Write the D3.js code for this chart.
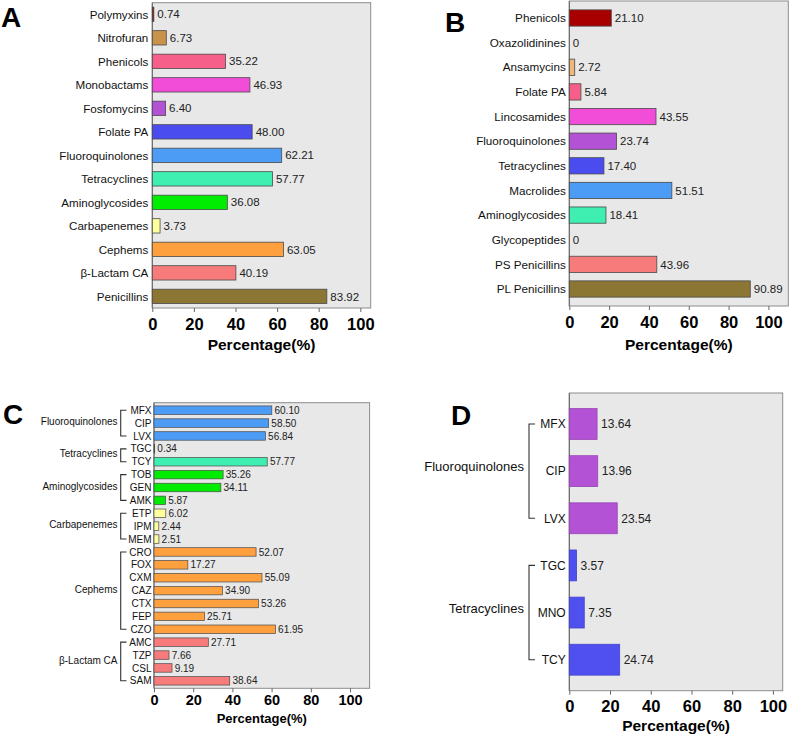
<!DOCTYPE html>
<html>
<head>
<meta charset="utf-8">
<script src="https://cdn.jsdelivr.net/npm/d3@7/dist/d3.min.js"></script>
<style>
  html,body{margin:0;padding:0;background:#fff;}
  svg{display:block;font-family:"Liberation Sans",Arial,Helvetica,sans-serif;}
</style>
</head>
<body>
<svg id="chart" width="789" height="737"></svg>
<script>
// ---------------- DATA ----------------
const tickValues = [0, 20, 40, 60, 80, 100];
const axisTitle = "Percentage(%)";

const catsA = ["Polymyxins","Nitrofuran","Phenicols","Monobactams","Fosfomycins","Folate PA","Fluoroquinolones","Tetracyclines","Aminoglycosides","Carbapenemes","Cephems","β-Lactam CA","Penicillins"];
const valsA = [0.74, 6.73, 35.22, 46.93, 6.40, 48.00, 62.21, 57.77, 36.08, 3.73, 63.05, 40.19, 83.92];

const catsB = ["Phenicols","Oxazolidinines","Ansamycins","Folate PA","Lincosamides","Fluoroquinolones","Tetracyclines","Macrolides","Aminoglycosides","Glycopeptides","PS Penicillins","PL Penicillins"];
const valsB = [21.10, 0, 2.72, 5.84, 43.55, 23.74, 17.40, 51.51, 18.41, 0, 43.96, 90.89];

const catsC = ["MFX","CIP","LVX","TGC","TCY","TOB","GEN","AMK","ETP","IPM","MEM","CRO","FOX","CXM","CAZ","CTX","FEP","CZO","AMC","TZP","CSL","SAM"];
const valsC = [60.10, 58.50, 56.84, 0.34, 57.77, 35.26, 34.11, 5.87, 6.02, 2.44, 2.51, 52.07, 17.27, 55.09, 34.90, 53.26, 25.71, 61.95, 27.71, 7.66, 9.19, 38.64];
const groupsC = ["Fluoroquinolones","Fluoroquinolones","Fluoroquinolones","Tetracyclines","Tetracyclines","Aminoglycosides","Aminoglycosides","Aminoglycosides","Carbapenemes","Carbapenemes","Carbapenemes","Cephems","Cephems","Cephems","Cephems","Cephems","Cephems","Cephems","β-Lactam CA","β-Lactam CA","β-Lactam CA","β-Lactam CA"];

const catsD = ["MFX","CIP","LVX","TGC","MNO","TCY"];
const valsD = [13.64, 13.96, 23.54, 3.57, 7.35, 24.74];
const groupsD = ["Fluoroquinolones","Fluoroquinolones","Fluoroquinolones","Tetracyclines","Tetracyclines","Tetracyclines"];

// ---------------- STYLES ----------------
const colorsA = ["#8b0000","#c9924b","#f65f8a","#f24dd9","#b452d6","#4a4cf0","#4c9bf5","#3eefb1","#00ec00","#ffff9e","#ffa03f","#f77b7b","#8b7633"];
const colorsB = ["#a80000","#f0b878","#f0b878","#f65f8a","#f24dd9","#b452d6","#4a4cf0","#4c9bf5","#3eefb1","#3eefb1","#f77b7b","#8b7633"];
const groupColorC = {"Fluoroquinolones":"#4c9bf5","Tetracyclines":"#3eefb1","Aminoglycosides":"#00ec00","Carbapenemes":"#ffff9e","Cephems":"#ffa03f","β-Lactam CA":"#f77b7b"};
const groupColorD = {"Fluoroquinolones":"#b452d6","Tetracyclines":"#5050f0"};

const svg = d3.select("#chart");
const fmt = v => v === 0 ? "0" : d3.format(".2f")(v);

function panel(cfg, cats, vals, colorFn) {
  const g = svg.append("g");
  const x = d3.scaleLinear().domain([0, cfg.dom]).range([cfg.x0, cfg.x1]);
  const y = d3.scaleBand().domain(cats).range([cfg.y0, cfg.y1])
              .paddingInner(cfg.pi).paddingOuter(cfg.po);

  // background + frame
  g.append("rect").attr("x", cfg.x0).attr("y", cfg.y0)
    .attr("width", cfg.x1 - cfg.x0).attr("height", cfg.y1 - cfg.y0)
    .attr("fill", "#e8e8e8").attr("stroke", "#8c8c8c").attr("stroke-width", 1);
  g.append("line").attr("x1", cfg.x0).attr("x2", cfg.x0).attr("y1", cfg.y0).attr("y2", cfg.y1)
    .attr("stroke", "#666").attr("stroke-width", 1);

  const data = cats.map((c, i) => ({c, v: vals[i], i}));

  // bars
  g.selectAll("rect.bar").data(data.filter(d => d.v > 0)).enter().append("rect")
    .attr("class", "bar")
    .attr("x", x(0)).attr("y", d => y(d.c))
    .attr("width", d => Math.max(0.6, x(d.v) - x(0)))
    .attr("height", y.bandwidth())
    .attr("fill", d => colorFn(d))
    .attr("stroke", d => cfg.darkStroke ? d3.color(colorFn(d)).darker(0.5) : "#4a4a4a")
    .attr("stroke-width", cfg.sw);

  // value labels
  g.selectAll("text.val").data(data).enter().append("text")
    .attr("class", "val")
    .attr("x", d => x(d.v) + cfg.valGap)
    .attr("y", d => y(d.c) + y.bandwidth() / 2)
    .attr("dy", "0.36em")
    .attr("font-size", cfg.valFont)
    .attr("fill", "#222")
    .text(d => fmt(d.v));

  // category labels
  g.selectAll("text.cat").data(data).enter().append("text")
    .attr("class", "cat")
    .attr("x", cfg.x0 - cfg.catGap)
    .attr("y", d => y(d.c) + y.bandwidth() / 2)
    .attr("dy", "0.36em")
    .attr("text-anchor", "end")
    .attr("font-size", cfg.catFont)
    .attr("fill", "#111")
    .text(d => d.c);

  // x axis
  const ax = g.append("g").attr("transform", `translate(0,${cfg.y1})`)
    .call(d3.axisBottom(x).tickValues(tickValues).tickSize(4).tickFormat(d3.format("d")));
  ax.select(".domain").remove();
  ax.selectAll(".tick line").attr("stroke", "#666");
  ax.selectAll(".tick text")
    .attr("y", cfg.tickBase - cfg.y1).attr("dy", 0)
    .attr("font-size", cfg.tickFont).attr("font-weight", "bold")
    .attr("fill", "#000")
    .attr("font-family", "Liberation Sans, Arial, sans-serif");

  // axis title
  g.append("text")
    .attr("x", (cfg.x0 + cfg.x1) / 2).attr("y", cfg.titleBase)
    .attr("text-anchor", "middle")
    .attr("font-size", cfg.titleFont).attr("font-weight", "bold")
    .text(axisTitle);

  // panel letter
  g.append("text").attr("x", cfg.lx).attr("y", cfg.ly)
    .attr("font-size", 28).attr("font-weight", "bold").text(cfg.letter);

  return {g, x, y};
}

function brackets(p, cats, groups, cfg) {
  const names = Array.from(new Set(groups));
  names.forEach(name => {
    const members = cats.filter((c, i) => groups[i] === name);
    const top = p.y(members[0]) + p.y.bandwidth() / 2;
    const bot = p.y(members[members.length - 1]) + p.y.bandwidth() / 2;
    p.g.append("path")
      .attr("d", `M${cfg.bx2},${top}H${cfg.bx1}V${bot}H${cfg.bx2}`)
      .attr("fill", "none").attr("stroke", "#333").attr("stroke-width", 1.1);
    p.g.append("text")
      .attr("x", cfg.gx).attr("y", (top + bot) / 2 + cfg.gdy)
      .attr("dy", "0.36em").attr("text-anchor", "end")
      .attr("font-size", cfg.gFont).attr("fill", "#111")
      .text(name);
  });
}

// Panel A
panel({x0:152.3, x1:370.7, dom:105, y0:2.7, y1:308, pi:0.39, po:0.19, sw:0.8,
       catFont:11.6, catGap:4, valFont:11.5, valGap:3.5, tickFont:16.5, tickBase:330,
       titleFont:15.5, titleBase:350, letter:"A", lx:1, ly:27},
      catsA, valsA, d => colorsA[d.i]);

// Panel B
panel({x0:569.3, x1:788.3, dom:110, y0:1, y1:306, pi:0.34, po:0.36, sw:0.8,
       catFont:11.7, catGap:3.5, valFont:11.5, valGap:3.5, tickFont:16.5, tickBase:328,
       titleFont:15.5, titleBase:350, letter:"B", lx:445, ly:32},
      catsB, valsB, d => colorsB[d.i]);

// Panel C
const pC = panel({x0:154, x1:369.6, dom:110, y0:402.7, y1:688.3, pi:0.34, po:0.25, sw:0.7,
       catFont:10, catGap:2.5, valFont:10, valGap:2.7, tickFont:14.5, tickBase:705,
       titleFont:13, titleBase:723, letter:"C", lx:3, ly:423.5},
      catsC, valsC, d => groupColorC[groupsC[d.i]]);
brackets(pC, catsC, groupsC, {bx1:120.7, bx2:126.5, gx:117.5, gdy:-1.5, gFont:10});

// Panel D
const pD = panel({x0:569.3, x1:782.7, dom:104.8, y0:393, y1:690.7, pi:0.345, po:0.33, sw:0.8, darkStroke:true,
       catFont:12, catGap:3.6, valFont:12, valGap:4, tickFont:16.5, tickBase:711.7,
       titleFont:15.5, titleBase:731, letter:"D", lx:451, ly:425},
      catsD, valsD, d => groupColorD[groupsD[d.i]]);
brackets(pD, catsD, groupsD, {bx1:529, bx2:535, gx:524, gdy:-4.5, gFont:13});
</script>
</body>
</html>
